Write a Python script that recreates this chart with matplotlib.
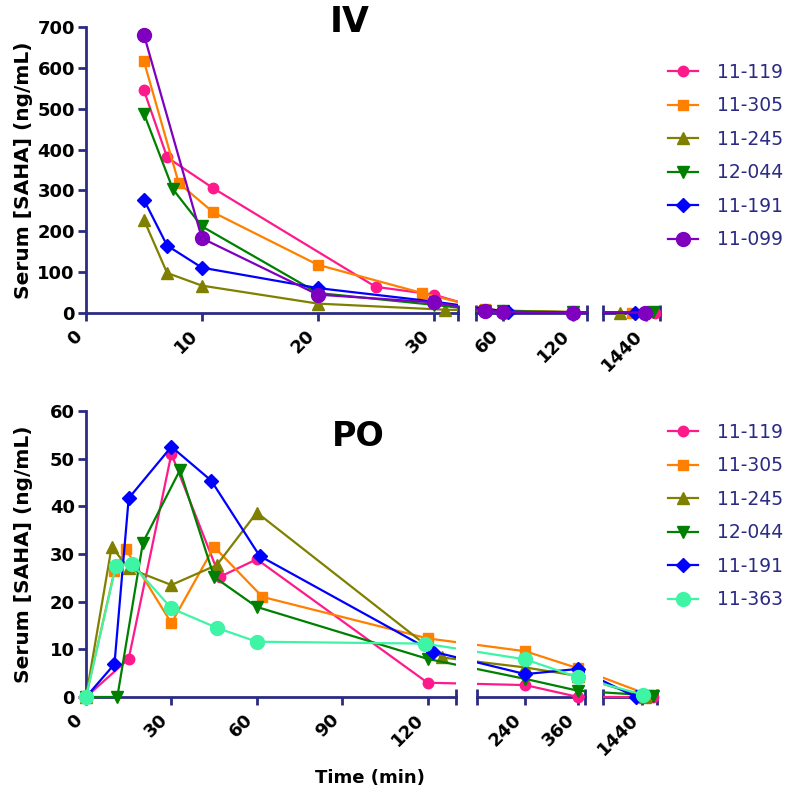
import numpy as np
import matplotlib
matplotlib.use("Agg")
import matplotlib.pyplot as plt
from matplotlib.lines import Line2D
from matplotlib.transforms import Bbox, TransformedBbox

# ---------------- data ----------------
# IV (top panel): time (min), serum SAHA (ng/mL)
iv_119_t = [5, 7, 11, 25, 30, 45, 60, 120, 1453]
iv_119_c = [545, 381, 305, 64, 45, 8, 4, 2, 1]
iv_305_t = [5, 8, 11, 20, 29, 45, 60, 120, 1421]
iv_305_c = [616, 318, 246, 118, 49, 10, 6, 2, 1]
iv_245_t = [5, 7, 10, 20, 31, 1404]
iv_245_c = [228, 98, 67, 23, 8, 0.5]
iv_044_t = [5, 7.5, 10, 20, 30, 45, 60, 120, 1450]
iv_044_c = [488, 303, 212, 49, 20, 6, 4, 2, 2]
iv_191_t = [5, 7, 10, 20, 30, 64, 120, 1425]
iv_191_c = [277, 165, 111, 61, 28, 3, 1, 0]
iv_099_t = [5, 10, 20, 30, 45, 60, 120, 1439]
iv_099_c = [681, 183, 45, 26, 6, 3, 1, 1]

# PO (bottom panel)
po_119_t = [0, 15, 30, 47, 60, 120, 240, 360, 1458]
po_119_c = [0, 8, 51, 25.2, 28.9, 3.0, 2.5, 0, 0]
po_305_t = [0, 10, 14, 30, 45, 62, 120, 240, 360, 1450]
po_305_c = [0, 26.5, 31, 15.5, 31.5, 21, 12.3, 9.6, 6, 0.5]
po_245_t = [0, 9, 15, 30, 46, 60, 125, 240, 360, 1445]
po_245_c = [0, 31.5, 27, 23.5, 27.7, 38.7, 8.3, 6.2, 4.4, 0]
po_044_t = [0, 11, 20, 33, 45, 60, 120, 240, 360, 1458]
po_044_c = [0, 0, 32.4, 47.6, 25.2, 18.9, 8.0, 3.8, 1.3, 0.3]
po_191_t = [0, 10, 15, 30, 44, 61, 122, 240, 360, 1430]
po_191_c = [0, 6.9, 41.7, 52.5, 45.4, 29.6, 9.5, 4.8, 5.9, 0]
po_363_t = [0, 10.5, 16, 30, 46, 60, 119, 240, 360, 1442]
po_363_c = [0, 27.5, 28, 18.6, 14.5, 11.6, 11.2, 7.9, 4.1, 0.5]

iv_labels = ["11-119", "11-305", "11-245", "12-044", "11-191", "11-099"]
po_labels = ["11-119", "11-305", "11-245", "12-044", "11-191", "11-363"]

iv_xticks = [[0, 10, 20, 30], [60, 120], [1440]]
po_xticks = [[0, 30, 60, 90, 120], [240, 360], [1440]]
iv_yticks = list(range(0, 701, 100))
po_yticks = list(range(0, 61, 10))

# ---------------- style ----------------
NAVY = "#2b2b84"
STYLE = {
    "11-119": ("#ff1a8c", "o", 7.5),
    "11-305": ("#ff8000", "s", 7.5),
    "11-245": ("#808000", "^", 8.5),
    "12-044": ("#008000", "v", 8.5),
    "11-191": ("#0000ff", "D", 7.5),
    "11-099": ("#7f00bf", "o", 10),
    "11-363": ("#3df5a5", "o", 10),
}

W, H = 800, 799
fig = plt.figure(figsize=(W / 100, H / 100), dpi=100)


def make_funcs(segs):
    d, p = [], []
    for lo, hi, p0, p1, _ in segs:
        d += [lo, hi]
        p += [p0, p1]
    d = np.array(d, float)
    p = np.array(p, float)
    s0 = (p[1] - p[0]) / (d[1] - d[0])
    s1 = (p[-1] - p[-2]) / (d[-1] - d[-2])
    d = np.concatenate([[d[0] - 1e5], d, [d[-1] + 1e5]])
    p = np.concatenate([[p[0] - 1e5 * s0], p, [p[-1] + 1e5 * s1]])
    return (lambda x: np.interp(x, d, p)), (lambda u: np.interp(u, p, d))


def draw_panel(series, labels, segs, ytop, ybot, ymax, yticks, legend_top):
    fwd, inv = make_funcs(segs)
    axes = []
    nseg = len(segs)
    for k, (lo, hi, p0, p1, xt) in enumerate(segs):
        ax = fig.add_axes([p0 / W, (H - ybot) / H, (p1 - p0) / W, (ybot - ytop) / H])
        ax.patch.set_visible(False)
        ax.set_xscale("function", functions=(fwd, inv))
        for sp in ["top", "right"]:
            ax.spines[sp].set_visible(False)
        ax.spines["bottom"].set_color(NAVY)
        ax.spines["bottom"].set_linewidth(2)
        if k == 0:
            ax.spines["left"].set_color(NAVY)
            ax.spines["left"].set_linewidth(2)
            ax.set_yticks(yticks, [str(v) for v in yticks], fontsize=13, fontweight="bold")
            ax.tick_params(axis="y", direction="out", length=6, width=2, color=NAVY, pad=2)
        else:
            ax.spines["left"].set_visible(False)
            ax.tick_params(axis="y", left=False, labelleft=False)
        # clipping: exact in x at interior edges, open in y
        x0c = -0.2 if k == 0 else 0.0
        x1c = 1.3 if k == nseg - 1 else 1.0
        clip = TransformedBbox(Bbox([[x0c, -0.1], [x1c, 1.1]]), ax.transAxes)
        for lab, (t, c) in zip(labels, series):
            col, mk, ms = STYLE[lab]
            ln, = ax.plot(t, c, color=col, marker=mk, ms=ms, lw=1.6,
                          mec=col, mfc=col, zorder=3)
            ln.set_clip_box(clip)
        ax.set_xlim(lo, hi)
        ax.set_ylim(0, ymax)
        ax.set_xticks(xt, [str(v) for v in xt], rotation=45, ha="right", va="top",
                      fontsize=13, fontweight="bold")
        caps = [hi] if k == 0 else [lo, hi]
        ax.set_xticks(caps, minor=True)
        ax.tick_params(axis="x", which="major", direction="out", length=6, width=2,
                       color=NAVY, pad=4)
        ax.tick_params(axis="x", which="minor", direction="inout", length=11, width=2,
                       color=NAVY)
        axes.append(ax)
    ax0 = axes[0]
    ax0.set_ylabel("Serum [SAHA] (ng/mL)", fontsize=14.5, fontweight="bold")
    ax0.yaxis.set_label_coords(-0.143, 0.5)
    handles = []
    for lab in labels:
        col, mk, ms = STYLE[lab]
        handles.append(Line2D([], [], color=col, marker=mk, ms=ms, lw=1.6))
    fig.legend(handles, labels, loc="upper left",
               bbox_to_anchor=(668 / W, 1 - legend_top / H),
               frameon=False, fontsize=13.5, labelcolor=NAVY,
               handlelength=1.6, handletextpad=1.0, labelspacing=0.77,
               borderpad=0, borderaxespad=0)
    return axes


iv_series = [(iv_119_t, iv_119_c), (iv_305_t, iv_305_c), (iv_245_t, iv_245_c),
             (iv_044_t, iv_044_c), (iv_191_t, iv_191_c), (iv_099_t, iv_099_c)]
po_series = [(po_119_t, po_119_c), (po_305_t, po_305_c), (po_245_t, po_245_c),
             (po_044_t, po_044_c), (po_191_t, po_191_c), (po_363_t, po_363_c)]

iv_segs = [(0, 32.1, 86, 458, iv_xticks[0]), (37, 132, 476, 587, iv_xticks[1]),
           (1380, 1460, 603, 660, iv_xticks[2])]
po_segs = [(0, 130, 86, 456, po_xticks[0]), (131, 375, 477, 585, po_xticks[1]),
           (1375, 1465, 603, 657, po_xticks[2])]

draw_panel(iv_series, iv_labels, iv_segs, 27, 313, 700, iv_yticks, 63)
draw_panel(po_series, po_labels, po_segs, 411, 697, 60, po_yticks, 423)

fig.text(350 / W, 1 - 22 / H, "IV", ha="center", va="center", fontsize=25, fontweight="bold")
fig.text(358 / W, 1 - 437 / H, "PO", ha="center", va="center", fontsize=24, fontweight="bold")
fig.text(370 / W, 1 - 778 / H, "Time (min)", ha="center", va="center", fontsize=13,
         fontweight="bold")

fig.savefig("out.png", dpi=100)
